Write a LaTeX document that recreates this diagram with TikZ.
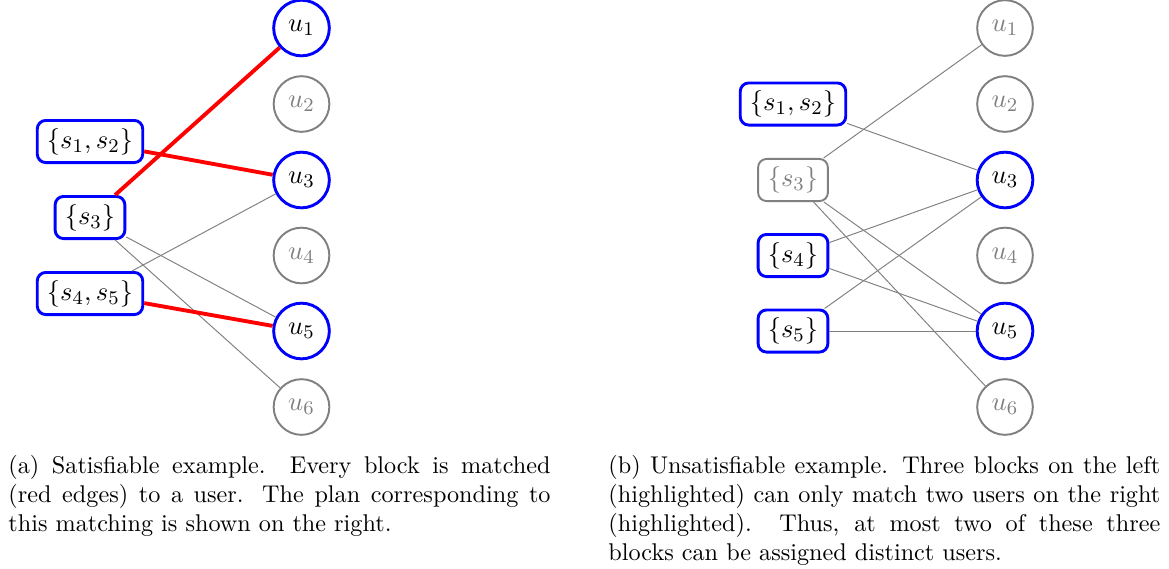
\documentclass[tikz,border=0pt]{standalone}
\begin{document}
\begin{tikzpicture}[x=0.4132pt,y=-0.4132pt,
  unode/.style={circle,minimum size=23pt,inner sep=0pt,font=\fontsize{11}{13}\selectfont},
  ublue/.style={unode,draw=blue,line width=1.2pt},
  ugray/.style={unode,draw=gray,line width=0.8pt,text=gray},
  sbox/.style={rectangle,rounded corners=3.5pt,minimum height=17.4pt,inner xsep=4pt,inner ysep=3pt,font=\fontsize{11}{13}\selectfont},
  sblue/.style={sbox,draw=blue,line width=1.2pt},
  sgray/.style={sbox,draw=gray,line width=0.8pt,text=gray},
  rededge/.style={red,line width=1.6pt},
  thinedge/.style={gray,line width=0.4pt},
  capt/.style={anchor=north west,text width=224pt,align=justify,inner sep=0pt,font=\normalsize}
]
\useasboundingbox (0,0) rectangle (1169,568);

% ---------- left panel ----------
\node[ublue] (a1) at (301.5,28) {$u_1$};
\node[ugray] (a2) at (301.5,104) {$u_2$};
\node[ublue] (a3) at (301.5,180) {$u_3$};
\node[ugray] (a4) at (301.5,255.5) {$u_4$};
\node[ublue] (a5) at (301.5,331) {$u_5$};
\node[ugray] (a6) at (301.5,407) {$u_6$};

\node[sblue] (as12) at (90,141.5) {$\{s_1,s_2\}$};
\node[sblue] (as3)  at (90,217.5) {$\{s_3\}$};
\node[sblue] (as45) at (90,293.5) {$\{s_4,s_5\}$};

\draw[thinedge] (as3) -- (a5);
\draw[thinedge] (as3) -- (a6);
\draw[thinedge] (as45) -- (a3);
\draw[rededge] (as12) -- (a3);
\draw[rededge] (as3) -- (a1);
\draw[rededge] (as45) -- (a5);

% ---------- right panel ----------
\node[ugray] (b1) at (1005,28) {$u_1$};
\node[ugray] (b2) at (1005,104) {$u_2$};
\node[ublue] (b3) at (1005,180) {$u_3$};
\node[ugray] (b4) at (1005,255.5) {$u_4$};
\node[ublue] (b5) at (1005,331) {$u_5$};
\node[ugray] (b6) at (1005,407) {$u_6$};

\node[sblue] (bs12) at (793,104) {$\{s_1,s_2\}$};
\node[sgray] (bs3)  at (793,180) {$\{s_3\}$};
\node[sblue] (bs4)  at (793,255.5) {$\{s_4\}$};
\node[sblue] (bs5)  at (793,331) {$\{s_5\}$};

\draw[thinedge] (bs12) -- (b3);
\draw[thinedge] (bs3) -- (b1);
\draw[thinedge] (bs3) -- (b5);
\draw[thinedge] (bs3) -- (b6);
\draw[thinedge] (bs4) -- (b3);
\draw[thinedge] (bs4) -- (b5);
\draw[thinedge] (bs5) -- (b3);
\draw[thinedge] (bs5) -- (b5);

% ---------- captions ----------
\node[capt] (capa) at (8,455) {(a) Satisfiable example.  Every block is matched\linebreak (red edges) to a user.  The plan corresponding to\linebreak this matching is shown on the right.};
\node[capt,text width=228pt] (capb) at (608,455) {(b) Unsatisfiable example. Three blocks on the left\linebreak (highlighted) can only match two users on the right\linebreak (highlighted).  Thus, at most two of these three\linebreak blocks can be assigned distinct users.};
\end{tikzpicture}
\end{document}
